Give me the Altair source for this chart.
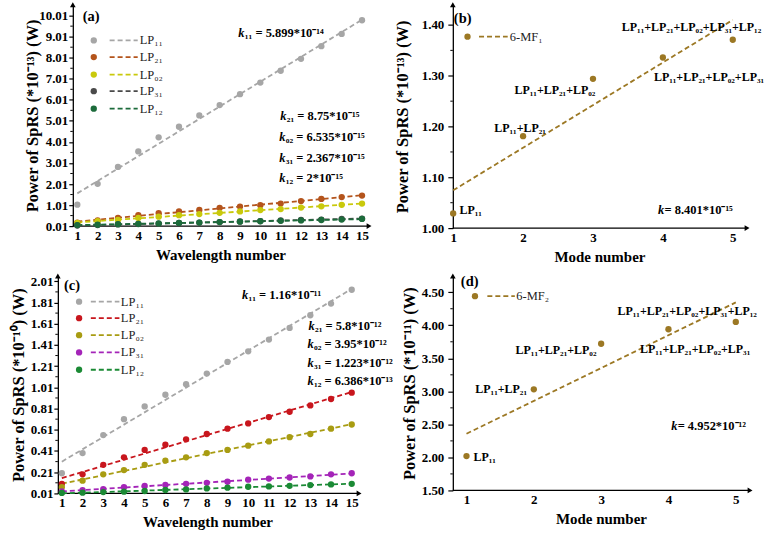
import altair as alt
import numpy as np
import pandas as pd

FONT = "Liberation Serif"
DEBUG = False

# ---------------- data ----------------
wavelength = [1, 2, 3, 4, 5, 6, 7, 8, 9, 10, 11, 12, 13, 14, 15]
mode_number = [1, 2, 3, 4, 5]

mode_labels = ["LP₁₁", "LP₂₁", "LP₀₂", "LP₃₁", "LP₁₂"]

# panel (a): power of SpRS in units of 1e-13 W
a_lp11 = [1.03, 2.02, 2.82, 3.56, 4.23, 4.73, 5.27, 5.76, 6.28, 6.83, 7.39, 7.96, 8.56, 9.14, 9.79]
a_lp21 = [0.18, 0.28, 0.40, 0.53, 0.63, 0.71, 0.78, 0.88, 0.94, 1.00, 1.08, 1.20, 1.30, 1.39, 1.46]
a_lp02 = [0.16, 0.24, 0.31, 0.40, 0.46, 0.53, 0.58, 0.64, 0.71, 0.77, 0.82, 0.89, 0.95, 1.02, 1.08]
a_lp31 = [0.04, 0.06, 0.09, 0.11, 0.13, 0.16, 0.18, 0.20, 0.23, 0.25, 0.28, 0.30, 0.32, 0.35, 0.37]
a_lp12 = [0.06, 0.08, 0.10, 0.12, 0.14, 0.16, 0.18, 0.20, 0.22, 0.24, 0.26, 0.28, 0.30, 0.32, 0.35]
a_colors = ["#a6a6a6", "#b4541c", "#c9c90c", "#4a4a4a", "#1c6b3b"]
a_k = ["₁₁ = 5.899*10⁻¹⁴", "₂₁ = 8.75*10⁻¹⁵", "₀₂ = 6.535*10⁻¹⁵", "₃₁ = 2.367*10⁻¹⁵", "₁₂ = 2*10⁻¹⁵"]
a_k_x = [8.92, 10.98, 10.93, 10.93, 10.93]
a_k_y = [9.20, 5.22, 4.23, 3.23, 2.28]
a_yticks = [0.01, 1.01, 2.01, 3.01, 4.01, 5.01, 6.01, 7.01, 8.01, 9.01, 10.01]
a_legend_y = [8.83, 8.04, 7.21, 6.42, 5.59]

# panel (c): power of SpRS in units of 1e-10 W
c_lp11 = [0.20, 0.39, 0.56, 0.71, 0.83, 0.94, 1.04, 1.14, 1.25, 1.35, 1.46, 1.57, 1.69, 1.80, 1.93]
c_lp21 = [0.10, 0.19, 0.28, 0.35, 0.42, 0.47, 0.52, 0.57, 0.62, 0.67, 0.73, 0.78, 0.84, 0.90, 0.96]
c_lp02 = [0.07, 0.13, 0.19, 0.23, 0.28, 0.32, 0.35, 0.39, 0.42, 0.46, 0.50, 0.54, 0.57, 0.62, 0.66]
c_lp31 = [0.03, 0.04, 0.05, 0.07, 0.08, 0.09, 0.10, 0.11, 0.12, 0.14, 0.15, 0.16, 0.17, 0.19, 0.20]
c_lp12 = [0.015, 0.017, 0.023, 0.026, 0.033, 0.042, 0.048, 0.057, 0.064, 0.073, 0.076, 0.082, 0.089, 0.095, 0.100]
c_colors = ["#a6a6a6", "#c8161d", "#a89c12", "#a424b8", "#1b8a35"]
c_k = ["₁₁ = 1.16*10⁻¹¹", "₂₁ = 5.8*10⁻¹²", "₀₂ = 3.95*10⁻¹²", "₃₁ = 1.223*10⁻¹²", "₁₂ = 6.386*10⁻¹³"]
c_k_x = [9.70, 12.91, 12.86, 12.86, 12.86]
c_k_y = [1.881, 1.590, 1.423, 1.235, 1.073]
c_yticks = [0.01, 0.21, 0.41, 0.61, 0.81, 1.01, 1.21, 1.41, 1.61, 1.81, 2.01]
c_legend_y = [1.818, 1.662, 1.502, 1.339, 1.176]

# panels (b) and (d): total power vs. number of modes
combo_labels = ["LP₁₁", "LP₁₁+LP₂₁", "LP₁₁+LP₂₁+LP₀₂", "LP₁₁+LP₂₁+LP₀₂+LP₃₁", "LP₁₁+LP₂₁+LP₀₂+LP₃₁+LP₁₂"]
b_power = [1.029, 1.181, 1.294, 1.336, 1.371]
d_power = [2.02, 3.03, 3.72, 3.94, 4.05]
b_series = "6-MF₁"
d_series = "6-MF₂"
mf_color = "#9c7824"
b_k = "\u00a0= 8.401*10⁻¹⁵"
d_k = "\u00a0= 4.952*10⁻¹²"
b_yticks = [1.00, 1.10, 1.20, 1.30, 1.40]
d_yticks = [1.50, 2.00, 2.50, 3.00, 3.50, 4.00, 4.50]
b_label_x = [1.25, 1.957, 2.456, 4.66, 4.41]
b_label_y = [1.035, 1.198, 1.271, 1.297, 1.397]
d_label_x = [1.27, 1.515, 2.33, 4.396, 4.278]
d_label_y = [2.013, 3.03, 3.629, 3.644, 4.222]


def points_df(xs, ys_list, colors):
    rows = []
    for i, (ys, c) in enumerate(zip(ys_list, colors)):
        for xv, yv in zip(xs, ys):
            rows.append({"x": xv, "y": yv, "c": c, "o": i})
    return pd.DataFrame(rows)


def fit_df(xs, ys_list, colors):
    # least-squares fit of each series, drawn between its first and last x
    rows = []
    for i, (ys, c) in enumerate(zip(ys_list, colors)):
        slope, icpt = np.polyfit(xs, ys, 1)
        for xv in (xs[0], xs[-1]):
            rows.append({"x": xv, "y": slope * xv + icpt, "c": c, "o": i})
    return pd.DataFrame(rows)


def minor_ticks(major):
    return pd.DataFrame({"m": [(a + b) / 2 for a, b in zip(major[:-1], major[1:])]})


def build_panel(cfg):
    w, h = cfg["w"], cfg["h"]
    ax0, ax1 = cfg["axis_span"]          # pixel extent of the drawn x axis line
    xs = alt.Scale(domain=cfg["xdom"], nice=False, zero=False)
    ys = alt.Scale(domain=cfg["ydom"], nice=False, zero=False)
    xa = alt.Axis(title=cfg["xtitle"], values=cfg["xticks"], format="d", grid=False, domain=False,
                  ticks=False, tickSize=0, labelPadding=3.5, labelFlush=False, labelOverlap=False,
                  labelFont=FONT, labelFontWeight="bold", labelFontSize=13, labelColor="black",
                  titleFont=FONT, titleFontWeight="bold", titleFontSize=15, titleColor="black",
                  titlePadding=4.5, titleX=cfg["xtitle_x"], titleAnchor="middle")
    ya = alt.Axis(title=cfg["ytitle"], values=cfg["yticks"], format=".2f", grid=False, offset=-ax0,
                  ticks=True, tickSize=cfg["ticksize"], tickColor="black", tickWidth=1.2,
                  labelPadding=cfg["labelpad"], labelFlush=False, labelOverlap=False,
                  labelFont=FONT, labelFontWeight="bold", labelFontSize=13, labelColor="black",
                  titleFont=FONT, titleFontWeight="bold", titleFontSize=16.5, titleColor="black",
                  titleX=cfg["titlex"], titleY=h / 2, titleBaseline="middle", titleAngle=-90,
                  titleAlign="center", domainColor="black", domainWidth=1.3)

    def X(f):
        return alt.X(f + ":Q", scale=xs, axis=xa)

    def Y(f):
        return alt.Y(f + ":Q", scale=ys, axis=ya)

    col = alt.Color("c:N", scale=None)
    one = alt.Chart(pd.DataFrame({"o": [0]}))
    layers = []
    # x axis line and minor y ticks
    layers.append(one.mark_rule(color="black", strokeWidth=1.3)
                  .encode(x=alt.value(ax0), x2=alt.value(ax1), y=alt.value(h)))
    layers.append(alt.Chart(minor_ticks(cfg["yticks"])).mark_rule(color="black", strokeWidth=1)
                  .encode(x=alt.value(ax0 - 2.5), x2=alt.value(ax0), y=Y("m")))
    layers.append(alt.Chart(cfg["fit"]).mark_line(strokeDash=[5, 3], strokeWidth=1.8)
                  .encode(x=X("x"), y=Y("y"), color=col, detail="o:N"))
    layers.append(alt.Chart(cfg["df"]).mark_circle(size=40, opacity=1)
                  .encode(x=X("x"), y=Y("y"), color=col))

    lg = alt.Chart(cfg["legend"])
    layers.append(lg.mark_rule(strokeDash=[5, 3], strokeWidth=1.8)
                  .encode(x=X("x1"), x2=alt.X2("x2"), y=Y("y"), color=col))
    layers.append(lg.mark_circle(size=40, opacity=1).encode(x=X("xd"), y=Y("y"), color=col))
    layers.append(lg.mark_text(align="left", baseline="middle", font=FONT, fontSize=12.5, color="#222222")
                  .encode(x=X("xt"), y=Y("y"), text="label:N"))

    kd = alt.Chart(cfg["kdf"])
    layers.append(kd.mark_text(text="k", align="left", baseline="middle", font=FONT, fontSize=cfg["kfs"],
                               fontStyle="italic", fontWeight="bold", color="black")
                  .encode(x=X("x"), y=Y("y")))
    layers.append(kd.mark_text(align="left", baseline="middle", dx=6.5, font=FONT, fontSize=cfg["kfs"],
                               fontWeight="bold", color="black")
                  .encode(x=X("x"), y=Y("y"), text="t:N"))

    if cfg.get("labels") is not None:
        layers.append(alt.Chart(cfg["labels"]).mark_text(align="center", baseline="middle", font=FONT,
                                                         fontSize=12, fontWeight="bold", color="black")
                      .encode(x=X("x"), y=Y("y"), text="t:N"))

    layers.append(alt.Chart(cfg["tag"]).mark_text(align="left", baseline="middle", font=FONT, fontSize=14.5,
                                                  fontWeight="bold", color="black")
                  .encode(x=X("x"), y=Y("y"), text="t:N"))

    layers.append(one.mark_point(shape="triangle-up", filled=True, size=32, color="black", opacity=1)
                  .encode(x=alt.value(ax0), y=alt.value(0)))
    layers.append(one.mark_point(shape="triangle-right", filled=True, size=32, color="black", opacity=1)
                  .encode(x=alt.value(ax1 + 1), y=alt.value(h)))
    for (px, py) in cfg.get("anchors", []):
        layers.append(one.mark_point(filled=True, size=20 if DEBUG else 1, opacity=1 if DEBUG else 0,
                                     color="red").encode(x=alt.value(px), y=alt.value(py)))
    return alt.layer(*layers).properties(width=w, height=h)


def legend_df(labels, colors, ys, xd, x1, x2, xt):
    n = len(labels)
    return pd.DataFrame({"label": labels, "c": colors, "y": ys,
                         "xd": [xd] * n, "x1": [x1] * n, "x2": [x2] * n, "xt": [xt] * n})


a_series = [a_lp11, a_lp21, a_lp02, a_lp31, a_lp12]
c_series = [c_lp11, c_lp21, c_lp02, c_lp31, c_lp12]

# layout (pixels): column 1 cells start at x=57, column 2 at x=453; row 1 at y=3
pa = build_panel(dict(
    df=points_df(wavelength, a_series, a_colors), fit=fit_df(wavelength, a_series, a_colors),
    xdom=[0.0437, 15.296], ydom=[0.01, 10.53], xticks=wavelength, yticks=a_yticks,
    xtitle="Wavelength number", ytitle="Power of SpRS (*10⁻¹³) (W)",
    w=311, h=222, axis_span=(15, 311), xtitle_x=163, ticksize=4, labelpad=1, titlex=-40, kfs=12.5,
    legend=legend_df(mode_labels, a_colors, a_legend_y, 1.81, 2.59, 3.97, 4.07),
    kdf=pd.DataFrame({"x": a_k_x, "y": a_k_y, "t": a_k}),
    labels=None,
    tag=pd.DataFrame({"x": [1.27], "y": [9.96], "t": ["(a)"]}),
    anchors=[(-57, -3)],
))

pc = build_panel(dict(
    df=points_df(wavelength, c_series, c_colors), fit=fit_df(wavelength, c_series, c_colors),
    xdom=[0.807, 15.788], ydom=[0.01, 2.06], xticks=wavelength, yticks=c_yticks,
    xtitle="Wavelength number", ytitle="Power of SpRS (*10⁻¹⁰) (W)",
    w=311, h=218, axis_span=(0, 301), xtitle_x=150, ticksize=4, labelpad=1, titlex=-39, kfs=12.5,
    legend=legend_df(mode_labels, c_colors, c_legend_y, 1.833, 2.40, 3.78, 3.85),
    kdf=pd.DataFrame({"x": c_k_x, "y": c_k_y, "t": c_k}),
    labels=None,
    tag=pd.DataFrame({"x": [1.1], "y": [1.966], "t": ["(c)"]}),
))

pb = build_panel(dict(
    df=points_df(mode_number, [b_power], [mf_color]), fit=fit_df(mode_number, [b_power], [mf_color]),
    xdom=[0.995, 5.19], ydom=[1.0, 1.44], xticks=mode_number, yticks=b_yticks,
    xtitle="Mode number", ytitle="Power of SpRS (*10⁻¹³) (W)",
    w=294, h=224, axis_span=(0, 294), xtitle_x=147, ticksize=5, labelpad=4, titlex=-50, kfs=12.5,
    legend=legend_df([b_series], [mf_color], [1.377], 1.205, 1.37, 1.78, 1.81),
    kdf=pd.DataFrame({"x": [3.93], "y": [1.035], "t": [b_k]}),
    labels=pd.DataFrame({"x": b_label_x, "y": b_label_y, "t": combo_labels}),
    tag=pd.DataFrame({"x": [1.01], "y": [1.411], "t": ["(b)"]}),
))

pd_ = build_panel(dict(
    df=points_df(mode_number, [d_power], [mf_color]), fit=fit_df(mode_number, [d_power], [mf_color]),
    xdom=[0.797, 5.197], ydom=[1.5, 4.746], xticks=mode_number, yticks=d_yticks,
    xtitle="Mode number", ytitle="Power of SpRS (*10⁻¹¹) (W)",
    w=297, h=215, axis_span=(0, 297), xtitle_x=148.5, ticksize=5, labelpad=4, titlex=-43, kfs=12.5,
    legend=legend_df([d_series], [mf_color], [4.44], 1.126, 1.31, 1.718, 1.74),
    kdf=pd.DataFrame({"x": [4.04], "y": [2.48], "t": [d_k]}),
    labels=pd.DataFrame({"x": d_label_x, "y": d_label_y, "t": combo_labels}),
    tag=pd.DataFrame({"x": [0.916], "y": [4.656], "t": ["(d)"]}),
    anchors=[(318, 261)],
))

chart = (alt.concat(pa, pb, pc, pd_, columns=2, bounds="flush", align="none",
                    spacing={"row": 48, "column": 85})
         .properties(padding=0, background="white")
         .configure_view(stroke=None))

chart.save("out.html", embed_options={"renderer": "svg", "actions": False})
